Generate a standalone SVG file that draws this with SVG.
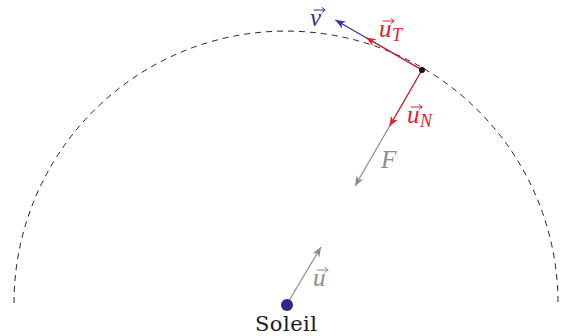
<svg xmlns="http://www.w3.org/2000/svg" width="569" height="336" viewBox="0 0 569 336">
<style>
.lbl{font-family:"Liberation Serif","DejaVu Serif",serif;font-style:italic;font-size:25px}
.sub{font-family:"Liberation Serif","DejaVu Serif",serif;font-style:italic;font-size:18px}
.red{fill:#e3202b}
.blue{fill:#2f2f9e}
.gray{fill:#8c8c8c}
.vec{fill:none;stroke-width:1.2}
.acc{fill:none;stroke-width:1;stroke-linecap:round;stroke-linejoin:round}
</style>
<defs>
<marker id="ar" viewBox="-10 -5 11 10" refX="0" refY="0" markerWidth="11" markerHeight="10" markerUnits="userSpaceOnUse" orient="auto"><path d="M0,0 L-10,-4 L-7,0 L-10,4 Z" fill="#e3202b"/></marker>
<marker id="ab" viewBox="-10 -5 11 10" refX="0" refY="0" markerWidth="11" markerHeight="10" markerUnits="userSpaceOnUse" orient="auto"><path d="M0,0 L-10,-4 L-7,0 L-10,4 Z" fill="#2f2f9e"/></marker>
<marker id="ag" viewBox="-10 -5 11 10" refX="0" refY="0" markerWidth="11" markerHeight="10" markerUnits="userSpaceOnUse" orient="auto"><path d="M0,0 L-10,-4 L-7,0 L-10,4 Z" fill="#8c8c8c"/></marker>
</defs>
<g id="orbit">
<path d="M14 303 A272 272 0 0 1 558 303" fill="none" stroke="#222" stroke-width="1" stroke-dasharray="6 5"/>
</g>
<g id="connectors">
<line class="vec" x1="422" y1="70" x2="355" y2="186" stroke="#8c8c8c" marker-end="url(#ag)"/>
<line class="vec" x1="422" y1="70" x2="335.4" y2="20" stroke="#2f2f9e" marker-end="url(#ab)"/>
<line class="vec" x1="422" y1="70" x2="366" y2="37.6" stroke="#e3202b" marker-end="url(#ar)"/>
<line class="vec" x1="422" y1="70" x2="389.5" y2="126.3" stroke="#e3202b" marker-end="url(#ar)"/>
<line class="vec" x1="287" y1="304" x2="321" y2="247" stroke="#8c8c8c" marker-end="url(#ag)"/>
</g>
<g id="planet"><circle cx="422" cy="70" r="3" fill="#111"/></g>
<g id="soleil">
<circle cx="287" cy="305" r="6" fill="#2a2a8c"/>
<text x="255" y="331" font-family="DejaVu Serif, Liberation Serif, serif" font-size="21" fill="#1a1a1a" textLength="62">Soleil</text>
</g>
<g id="label-v">
<text class="lbl blue" x="310" y="26">v</text>
<path class="acc" stroke="#2f2f9e" d="M314 10 H325 M322 7.5 L325 10 L322 12.5"/>
</g>
<g id="label-uT">
<text class="lbl red" x="379" y="37">u</text>
<text class="sub red" x="392" y="41">T</text>
<path class="acc" stroke="#e3202b" d="M383 21 H394 M391 18.5 L394 21 L391 23.5"/>
</g>
<g id="label-uN">
<text class="lbl red" x="407" y="123">u</text>
<text class="sub red" x="420" y="127">N</text>
<path class="acc" stroke="#e3202b" d="M411 107 H422 M419 104.5 L422 107 L419 109.5"/>
</g>
<g id="label-F">
<text class="lbl gray" x="381" y="168">F</text>
</g>
<g id="label-u">
<text class="lbl gray" x="313" y="286">u</text>
<path class="acc" stroke="#8c8c8c" d="M317 270 H328 M325 267.5 L328 270 L325 272.5"/>
</g>
</svg>
